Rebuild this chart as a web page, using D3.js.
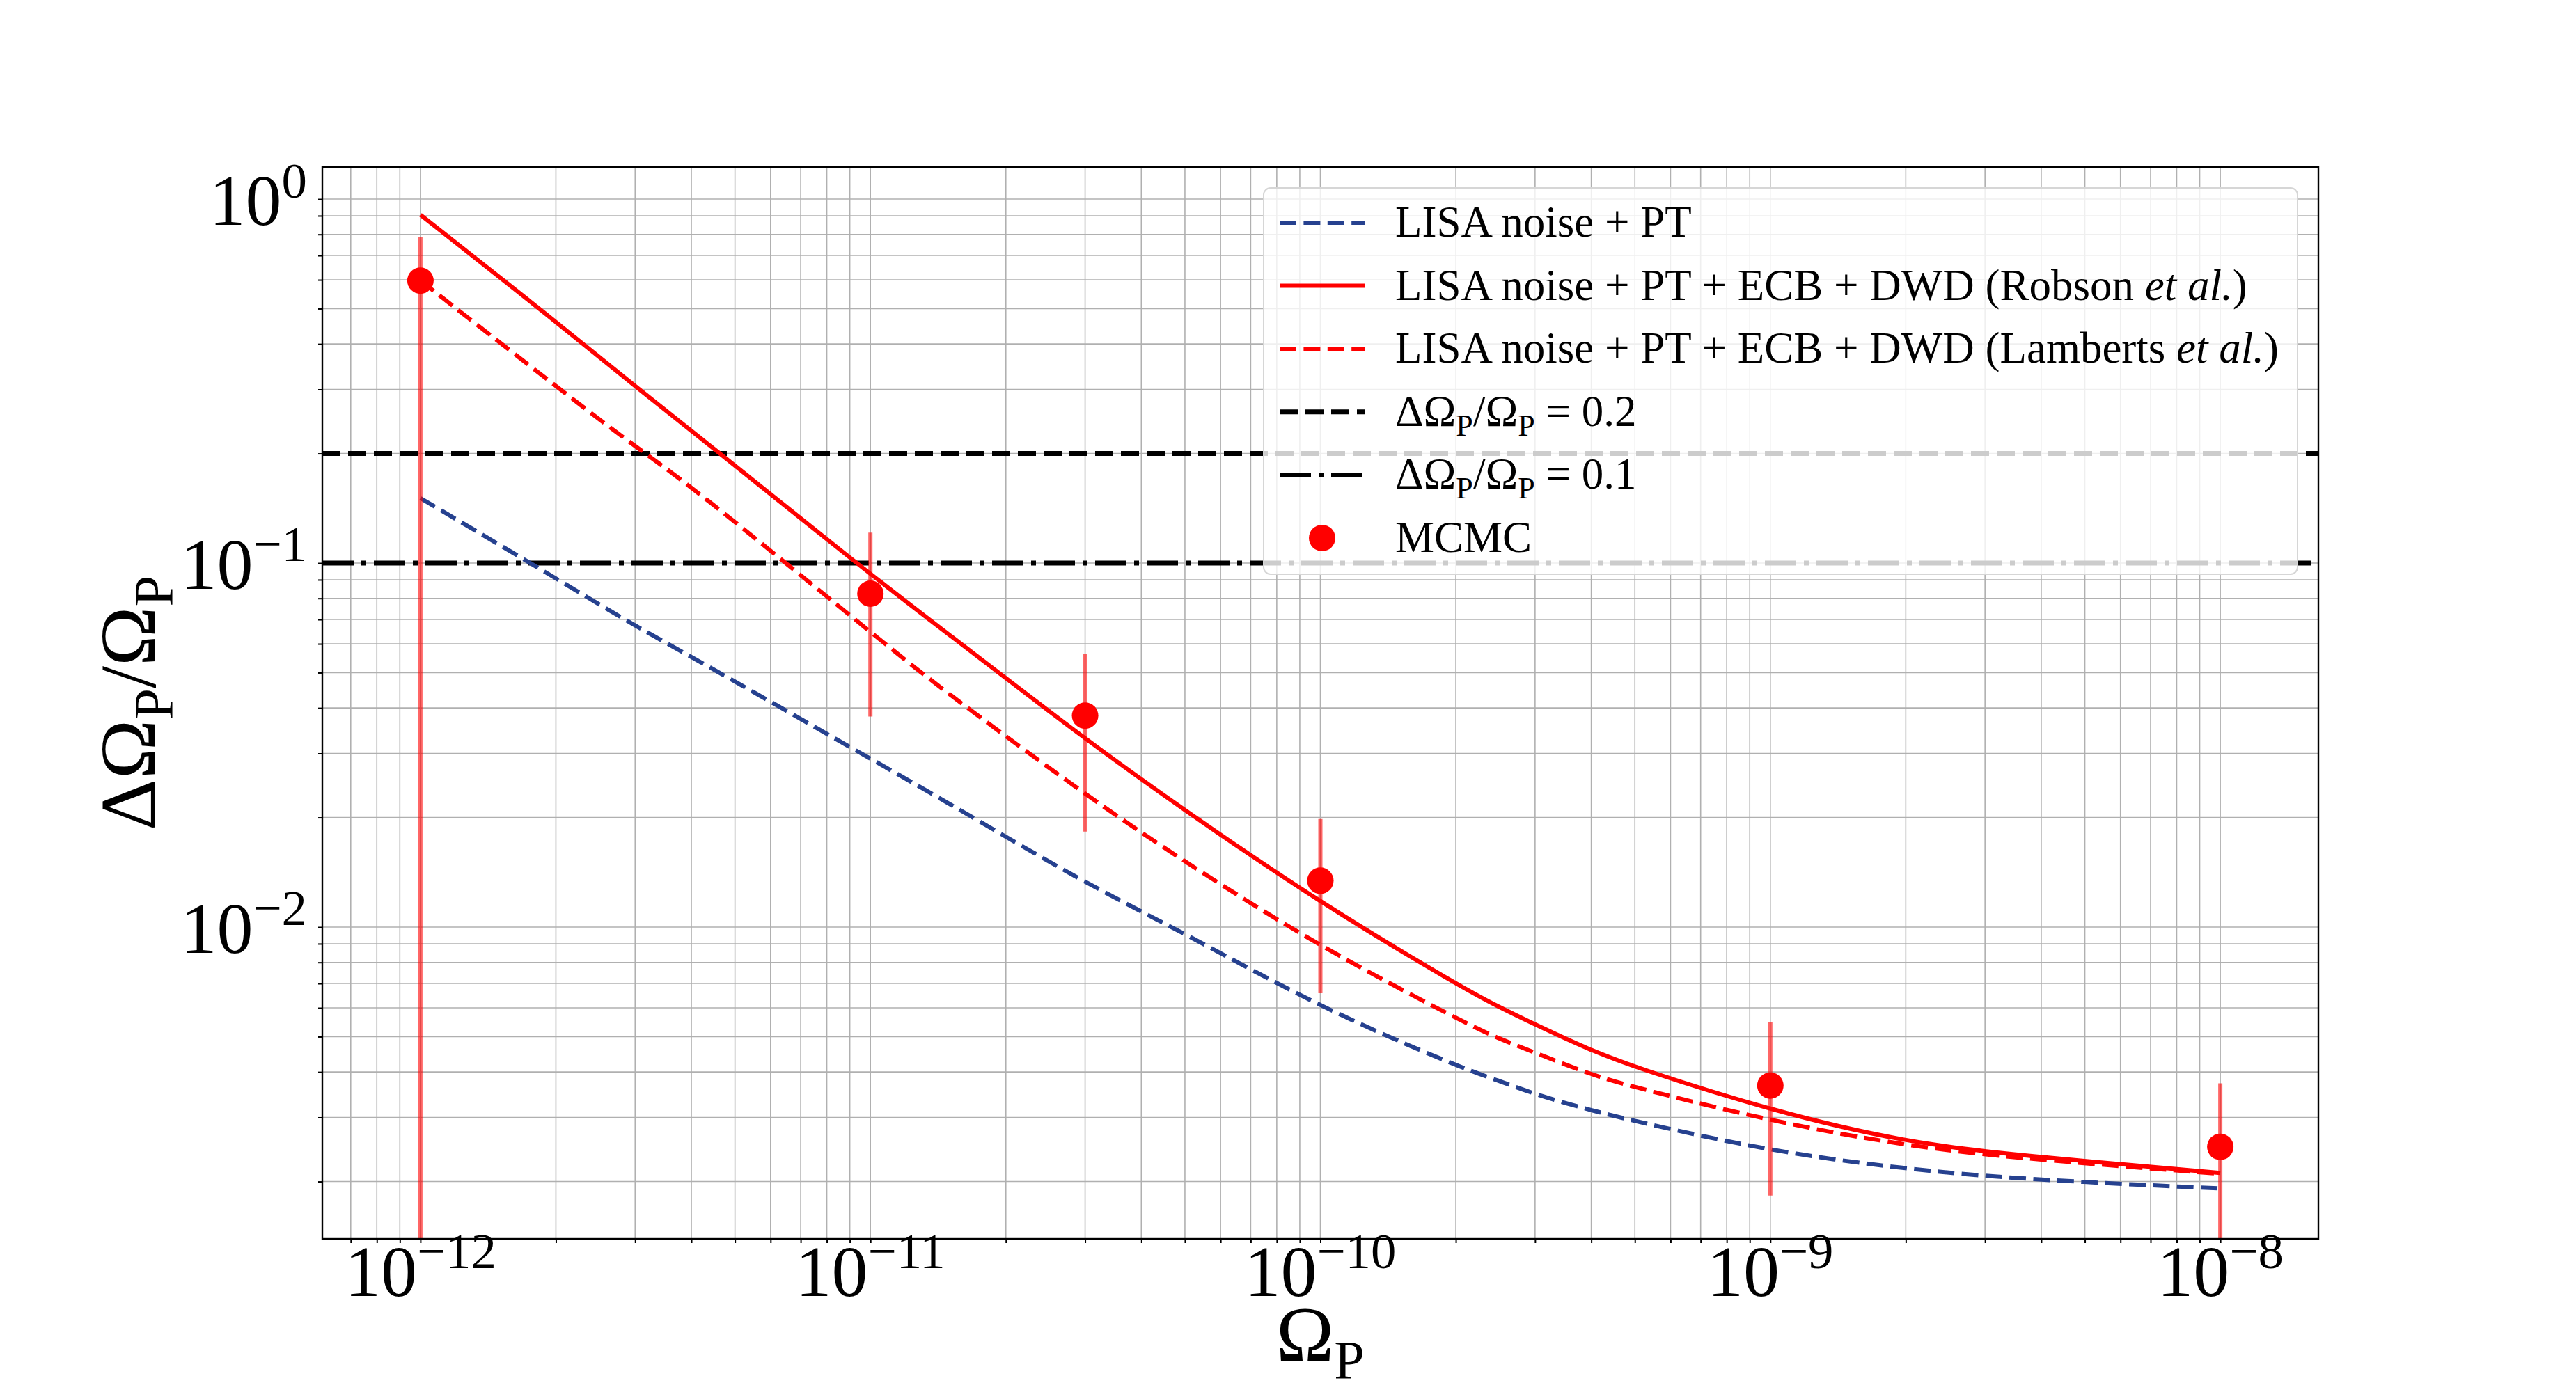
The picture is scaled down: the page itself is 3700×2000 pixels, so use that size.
<!DOCTYPE html>
<html>
<head>
<meta charset="utf-8">
<script src="https://cdn.jsdelivr.net/npm/d3@7"></script>
<style>
  body { margin: 0; background: #fff; }
  text { font-family: "Liberation Serif", "DejaVu Serif", serif; fill: #000; }
</style>
</head>
<body>
<svg id="chart" width="3700" height="2000"></svg>
<script>
// values
const omegaGrid = [1e-12, 2e-12, 3e-12, 4e-12, 1e-11, 1.43e-11, 3e-11, 5e-11, 1e-10,
                   2.07e-10, 2.47e-10, 3e-10, 4e-10, 5e-10, 1e-9, 2e-9, 3.57e-9, 1e-8];
const lisaPT   = [0.1508, 0.0909, 0.0671, 0.0554, 0.029, 0.0226, 0.01318, 0.00962, 0.0060,
                  0.00409, 0.0038, 0.00347, 0.003136, 0.00293, 0.00242, 0.002164, 0.00203, 0.001914];
const robson   = [0.905, 0.461, 0.306, 0.2314, 0.093, 0.0664, 0.0328, 0.0209, 0.01164,
                  0.00681, 0.00607, 0.0054, 0.00458, 0.00412, 0.003136, 0.00256, 0.002358, 0.002112];
const lamberts = [0.597, 0.306, 0.2087, 0.163, 0.0646, 0.0453, 0.0231, 0.01508, 0.0088,
                  0.0055, 0.00496, 0.00452, 0.003926, 0.003628, 0.00293, 0.002505, 0.002315, 0.0021];

const mcmcOmega = [1e-12, 1e-11, 3e-11, 1e-10, 1e-9, 1e-8];
const mcmcVal   = [0.597, 0.0824, 0.0381, 0.01341, 0.00367, 0.00249];
const mcmcHi    = [0.7855, 0.1213, 0.0562, 0.0198, 0.00547, 0.00372];
const mcmcLo    = [1e-4, 0.0379, 0.0183, 0.00658, 0.00183, 0.00126];

const thresholds = [0.2, 0.1];
const xTickExps = [-12, -11, -10, -9, -8];
const yTickExps = [0, -1, -2];

const legendLabels = [
  [{t: "LISA noise + PT"}],
  [{t: "LISA noise + PT + ECB + DWD (Robson "}, {t: "et al.", i: true}, {t: ")"}],
  [{t: "LISA noise + PT + ECB + DWD (Lamberts "}, {t: "et al.", i: true}, {t: ")"}],
  [{t: "ΔΩ"}, {t: "P", sub: true}, {t: "/Ω"}, {t: "P", sub: true}, {t: " = 0.2"}],
  [{t: "ΔΩ"}, {t: "P", sub: true}, {t: "/Ω"}, {t: "P", sub: true}, {t: " = 0.1"}],
  [{t: "MCMC"}]
];

const blue = "#26418f", red = "#ff0000";
const L = 463, R = 3330, T = 240, B = 1780;

const svg = d3.select("#chart");
const x = d3.scaleLog().domain([Math.pow(10, -12.218), Math.pow(10, -7.782)]).range([L, R]);
const y = d3.scaleLog().domain([Math.pow(10, -2.8566), Math.pow(10, 0.088)]).range([B, T]);

svg.append("defs").append("clipPath").attr("id", "plotclip")
   .append("rect").attr("x", L).attr("y", T).attr("width", R - L).attr("height", B - T);

// segments -> tspans (sub/superscripts, italics)
function richText(sel, segs, size) {
  let shift = 0;
  segs.forEach(s => {
    const want = s.sub ? size * 0.22 : s.sup ? -size * 0.38 : 0;
    const ts = sel.append("tspan").attr("dy", want - shift).text(s.t);
    if (s.sub || s.sup) ts.attr("font-size", size * 0.7);
    if (s.i) ts.attr("font-style", "italic");
    shift = want;
  });
}

// grid
const xt = x.ticks(), yt = y.ticks();
const grid = svg.append("g").attr("stroke", "#b0b0b0").attr("stroke-width", 1.6);
grid.selectAll(".gx").data(xt).enter().append("line")
    .attr("x1", d => x(d)).attr("x2", d => x(d)).attr("y1", T).attr("y2", B);
grid.selectAll(".gy").data(yt).enter().append("line")
    .attr("y1", d => y(d)).attr("y2", d => y(d)).attr("x1", L).attr("x2", R);

// axes ticks
svg.append("g").attr("transform", `translate(0,${B})`)
   .call(d3.axisBottom(x).tickValues(xt).tickSize(6).tickFormat(""))
   .call(g => g.select(".domain").remove())
   .call(g => g.selectAll("line").attr("stroke-width", 2));
svg.append("g").attr("transform", `translate(${L},0)`)
   .call(d3.axisLeft(y).tickValues(yt).tickSize(6).tickFormat(""))
   .call(g => g.select(".domain").remove())
   .call(g => g.selectAll("line").attr("stroke-width", 2));

// tick labels
svg.append("g").selectAll("text").data(xTickExps).enter().append("text")
   .attr("x", d => x(Math.pow(10, d))).attr("y", 1862)
   .attr("text-anchor", "middle").attr("font-size", 104)
   .each(function(d) { richText(d3.select(this), [{t: "10"}, {t: (d < 0 ? "−" : "") + Math.abs(d), sup: true}], 104); });
svg.append("g").selectAll("text").data(yTickExps).enter().append("text")
   .attr("x", 441).attr("y", d => y(Math.pow(10, d)) + 37)
   .attr("text-anchor", "end").attr("font-size", 104)
   .each(function(d) { richText(d3.select(this), [{t: "10"}, {t: (d < 0 ? "−" : "") + Math.abs(d), sup: true}], 104); });

// axis labels
svg.append("text").attr("x", (L + R) / 2).attr("y", 1955).attr("text-anchor", "middle")
   .attr("font-size", 112)
   .call(t => richText(t, [{t: "Ω"}, {t: "P", sub: true}], 112));
svg.append("text").attr("transform", `translate(223,${(T + B) / 2}) rotate(-90)`)
   .attr("text-anchor", "middle").attr("font-size", 115)
   .call(t => richText(t, legendLabels[3].slice(0, 4), 115));

const plot = svg.append("g").attr("clip-path", "url(#plotclip)");

// threshold lines
const thrDash = ["26,11", "45,11,7,11"];
plot.selectAll(".thr").data(thresholds).enter().append("line")
    .attr("x1", L).attr("x2", R).attr("y1", d => y(d)).attr("y2", d => y(d))
    .attr("stroke", "#000").attr("stroke-width", 7)
    .attr("stroke-dasharray", (d, i) => thrDash[i]);

// curves
const line = d3.line().x(d => x(d[0])).y(d => y(d[1])).curve(d3.curveBasis);
const curves = [
  {vals: lisaPT, color: blue, dash: "24,10.4"},
  {vals: robson, color: red, dash: null},
  {vals: lamberts, color: red, dash: "24,10.4"}
];
plot.selectAll(".curve").data(curves).enter().append("path")
    .attr("fill", "none").attr("stroke", d => d.color).attr("stroke-width", 6)
    .attr("stroke-dasharray", d => d.dash)
    .attr("d", d => line(omegaGrid.map((o, i) => [o, d.vals[i]])));

// MCMC points with error bars
const pts = mcmcOmega.map((o, i) => ({o, v: mcmcVal[i], hi: mcmcHi[i], lo: mcmcLo[i]}));
plot.selectAll(".pt").data(pts).enter().append("circle")
    .attr("cx", d => x(d.o)).attr("cy", d => y(d.v)).attr("r", 19).attr("fill", red);
plot.selectAll(".eb").data(pts).enter().append("line")
    .attr("x1", d => x(d.o)).attr("x2", d => x(d.o))
    .attr("y1", d => y(d.hi)).attr("y2", d => y(d.lo))
    .attr("stroke", red).attr("stroke-opacity", 0.6).attr("stroke-width", 6);

// frame
svg.append("rect").attr("x", L).attr("y", T).attr("width", R - L).attr("height", B - T)
   .attr("fill", "none").attr("stroke", "#000").attr("stroke-width", 2.4);

// legend
const lg = svg.append("g");
lg.append("rect").attr("x", 1815).attr("y", 270).attr("width", 1485).attr("height", 555)
  .attr("rx", 10).attr("fill", "#fff").attr("fill-opacity", 0.8)
  .attr("stroke", "#d6d6d6").attr("stroke-width", 2);
const samples = [
  {color: blue, dash: "24,10.4", w: 6},
  {color: red, dash: null, w: 6},
  {color: red, dash: "24,10.4", w: 6},
  {color: "#000", dash: "26,11", w: 7},
  {color: "#000", dash: "45,11,7,11", w: 7},
  {marker: true}
];
const rowY = i => 320 + i * 90.6;
samples.forEach((s, i) => {
  if (s.marker) {
    lg.append("circle").attr("cx", 1899).attr("cy", rowY(i)).attr("r", 19).attr("fill", red);
  } else {
    lg.append("line").attr("x1", 1838).attr("x2", 1960).attr("y1", rowY(i)).attr("y2", rowY(i))
      .attr("stroke", s.color).attr("stroke-width", s.w).attr("stroke-dasharray", s.dash);
  }
  lg.append("text").attr("x", 2004).attr("y", rowY(i) + 20).attr("font-size", 63)
    .call(t => richText(t, legendLabels[i], 63));
});
</script>
</body>
</html>
